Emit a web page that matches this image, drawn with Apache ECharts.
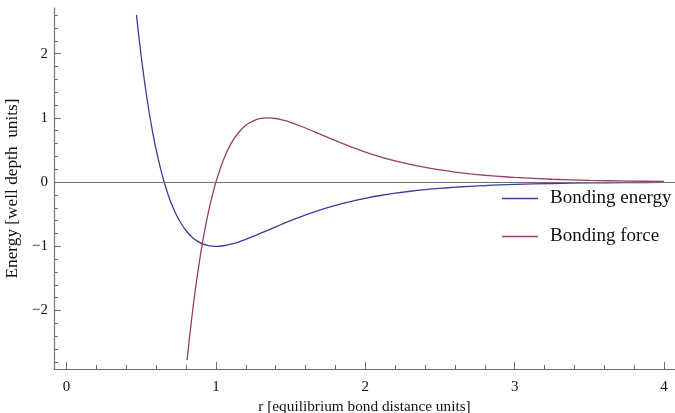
<!DOCTYPE html>
<html>
<head>
<meta charset="utf-8">
<script src="https://cdn.jsdelivr.net/npm/echarts@6/dist/echarts.min.js"></script>
<style>html,body{margin:0;padding:0;background:#fff;}#c{width:675px;height:413px;}</style>
</head>
<body>
<div id="c"></div>
<script>
const rEnergy = [0.468,0.475,0.5,0.525,0.55,0.575,0.6,0.625,0.65,0.675,0.7,0.75,0.8,0.85,0.9,0.95,1.0,1.05,1.1,1.15,1.2,1.25,1.3,1.35,1.4,1.45,1.5,1.6,1.7,1.8,1.9,2.0,2.1,2.2,2.3,2.4,2.5,2.6,2.7,2.8,2.9,3.0,3.25,3.5,3.75,4.0];
const energy = [2.602,2.451,1.953,1.515,1.130,0.795,0.502,0.248,0.028,-0.162,-0.324,-0.579,-0.758,-0.878,-0.951,-0.989,-1.000,-0.991,-0.967,-0.933,-0.891,-0.845,-0.796,-0.747,-0.697,-0.648,-0.601,-0.512,-0.432,-0.363,-0.303,-0.252,-0.209,-0.173,-0.143,-0.118,-0.097,-0.080,-0.066,-0.054,-0.044,-0.036,-0.022,-0.013,-0.008,-0.005];
const rForce = [0.807,0.825,0.85,0.875,0.9,0.925,0.95,0.975,1.0,1.05,1.1,1.15,1.2,1.25,1.3,1.35,1.4,1.45,1.5,1.6,1.7,1.8,1.9,2.0,2.1,2.2,2.3,2.4,2.5,2.6,2.7,2.8,2.9,3.0,3.25,3.5,3.75,4.0];
const force = [-2.772,-2.379,-1.889,-1.459,-1.082,-0.752,-0.465,-0.216,0,0.344,0.594,0.768,0.884,0.954,0.990,1.000,0.990,0.965,0.930,0.842,0.743,0.644,0.552,0.468,0.394,0.330,0.275,0.228,0.189,0.156,0.129,0.106,0.088,0.072,0.044,0.027,0.016,0.010];
const xMajorTicks = [0,1,2,3,4];
const xMinorTicks = [0.2,0.4,0.6,0.8,1.2,1.4,1.6,1.8,2.2,2.4,2.6,2.8,3.2,3.4,3.6,3.8];
const yMajorTicks = [-2,-1,0,1,2];
const yMinorTicks = [-2.8,-2.6,-2.4,-2.2,-1.8,-1.6,-1.4,-1.2,-0.8,-0.6,-0.4,-0.2,0.2,0.4,0.6,0.8,1.2,1.4,1.6,1.8,2.2,2.4,2.6];
const seriesNames = ['Bonding energy','Bonding force'];

const FONT = 'Liberation Serif';
const AX = '#6e6e6e';
const xr = {min:-0.084, max:4.073};
const yr = {min:-2.91, max:2.71};

const chart = echarts.init(document.getElementById('c'), null, {renderer:'canvas'});
chart.setOption({
  animation:false,
  backgroundColor:'#fff',
  grid:{left:54, right:0, top:8, bottom:44, containLabel:false, outerBoundsMode:'none'},
  legend:{
    data:seriesNames, orient:'vertical', left:502, top:189, padding:0,
    icon:'rect', itemWidth:36, itemHeight:1.3, itemGap:19,
    textStyle:{fontFamily:FONT, fontSize:19, color:'#111', padding:[0,0,0,7]}
  },
  xAxis:[
    {type:'value', min:xr.min, max:xr.max, position:'bottom',
     name:'r [equilibrium bond distance units]', nameLocation:'middle', nameGap:29,
     nameTextStyle:{fontFamily:FONT, fontSize:15.3, color:'#111'},
     axisLine:{show:true, onZero:false, lineStyle:{color:AX, width:1.2}},
     axisTick:{show:true, inside:true, length:7, customValues:xMajorTicks, lineStyle:{color:AX, width:1}},
     axisLabel:{customValues:xMajorTicks, margin:11, fontFamily:FONT, fontSize:15, color:'#111'},
     splitLine:{show:false}},
    {type:'value', min:xr.min, max:xr.max, position:'bottom',
     axisLine:{show:false, onZero:false},
     axisTick:{show:true, inside:true, length:4, customValues:xMinorTicks, lineStyle:{color:AX, width:1}},
     axisLabel:{show:false}, splitLine:{show:false}}
  ],
  yAxis:[
    {type:'value', min:yr.min, max:yr.max, position:'left',
     name:'Energy [well depth  units]', nameLocation:'middle', nameGap:29, nameRotate:90,
     nameTextStyle:{fontFamily:FONT, fontSize:17.3, color:'#111'},
     axisLine:{show:true, onZero:false, lineStyle:{color:AX, width:1.2}},
     axisTick:{show:true, inside:true, length:7, customValues:yMajorTicks, lineStyle:{color:AX, width:1}},
     axisLabel:{customValues:yMajorTicks, margin:6, fontFamily:FONT, fontSize:15, color:'#111',
       formatter:v => v < 0 ? '\u2212' + (-v) : String(v)},
     splitLine:{show:false}},
    {type:'value', min:yr.min, max:yr.max, position:'left',
     axisLine:{show:false, onZero:false},
     axisTick:{show:true, inside:true, length:4, customValues:yMinorTicks, lineStyle:{color:AX, width:1}},
     axisLabel:{show:false}, splitLine:{show:false}}
  ],
  series:[
    {name:'zero', type:'line', data:[], z:1, silent:true,
     markLine:{silent:true, symbol:'none', label:{show:false},
       lineStyle:{color:'#6e6e6e', width:1.2, type:'solid'},
       data:[{yAxis:0}]}},
    {name:seriesNames[0], type:'line', symbol:'none', smooth:0.25, z:3,
     lineStyle:{color:'#3d3d9e', width:1.3}, itemStyle:{color:'#3d3d9e'},
     data:rEnergy.map((r,i)=>[r, energy[i]])},
    {name:seriesNames[1], type:'line', symbol:'none', smooth:0.25, z:3,
     lineStyle:{color:'#993d71', width:1.3}, itemStyle:{color:'#993d71'},
     data:rForce.map((r,i)=>[r, force[i]])}
  ]
});
</script>
</body>
</html>
